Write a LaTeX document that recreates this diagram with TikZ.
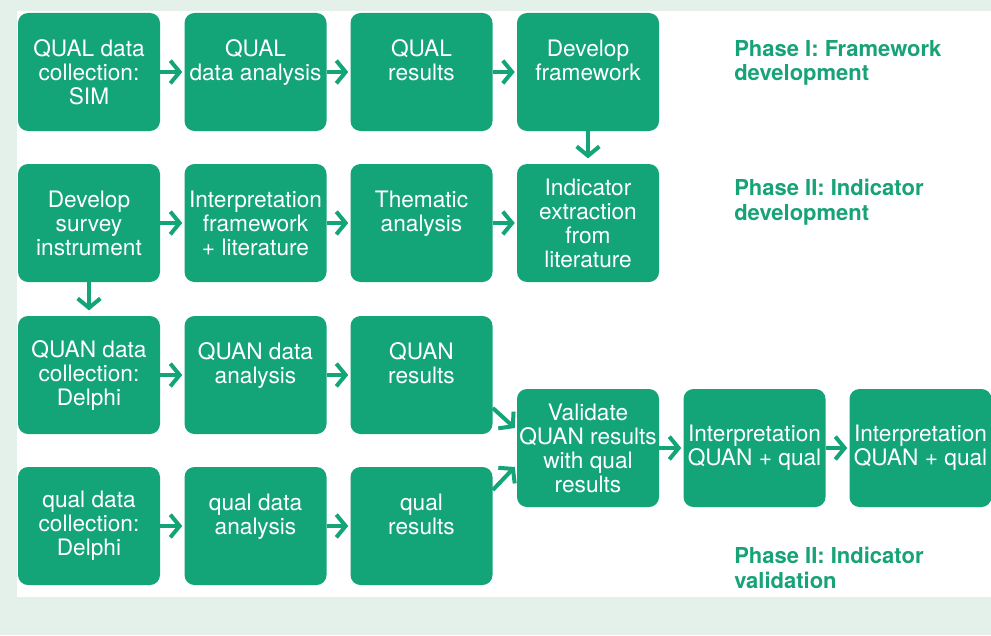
\documentclass[tikz,border=0pt]{standalone}
\usepackage{fontspec}
\setmainfont{TeX Gyre Heros}
\usetikzlibrary{arrows.meta,calc}
\definecolor{boxgreen}{HTML}{13A477}
\definecolor{labgreen}{HTML}{17A277}
\definecolor{bggreen}{HTML}{E4F1EA}
\tikzset{
  stagebox/.style={fill=boxgreen, draw=none, rounded corners=7.5pt,
    minimum width=106.5pt, minimum height=88.5pt, inner sep=0pt,
    text=white, align=center, font=\fontsize{17}{18}\selectfont},
  arr/.style={draw=boxgreen, line width=3pt, -{Straight Barb[length=7pt,width=17pt]}},
  phaselabel/.style={text=labgreen, align=left, anchor=north west, inner sep=0pt,
    font=\fontsize{16.5}{18.5}\selectfont\bfseries}
}
\begin{document}
\begin{tikzpicture}[x=0.75pt,y=-0.75pt]
\useasboundingbox (0,0) rectangle (991,635);
\fill[bggreen] (0,0) rectangle (991,635);
\fill[white] (17,11) rectangle (991,597);
% row 1
\node[stagebox] (a1) at (89,72) {QUAL data\\collection:\\SIM};
\node[stagebox] (a2) at (255.5,72) {QUAL\\data analysis\\\mbox{}};
\node[stagebox] (a3) at (421.5,72) {QUAL\\results\\\mbox{}};
\node[stagebox] (a4) at (588,72) {Develop\\framework\\\mbox{}};
% row 2
\node[stagebox] (b1) at (89,223) {Develop\\survey\\instrument};
\node[stagebox] (b2) at (255.5,223) {Interpretation\\framework\\+ literature};
\node[stagebox] (b3) at (421.5,223) {Thematic\\analysis\\\mbox{}};
\node[stagebox] (b4) at (588,223) {Indicator\\extraction\\from\\literature};
% row 3
\node[stagebox] (c1) at (89,375) {QUAN data\\collection:\\Delphi};
\node[stagebox] (c2) at (255.5,375) {QUAN data\\analysis\\\mbox{}};
\node[stagebox] (c3) at (421.5,375) {QUAN\\results\\\mbox{}};
% row 4
\node[stagebox] (d1) at (89,526) {qual data\\collection:\\Delphi};
\node[stagebox] (d2) at (255.5,526) {qual data\\analysis\\\mbox{}};
\node[stagebox] (d3) at (421.5,526) {qual\\results\\\mbox{}};
% validation row
\node[stagebox] (v1) at (588,448) {Validate\\QUAN results\\with qual\\results\raisebox{0pt}[0pt][0pt]{}};
\node[stagebox] (v2) at (754.5,448) {Interpretation\\QUAN + qual};
\node[stagebox] (v3) at (920.5,448) {Interpretation\\QUAN + qual};
% phase labels
\node[phaselabel] (p1) at (734,40) {Phase I: Framework\\development};
\node[phaselabel] (p2) at (734,179) {Phase II: Indicator\\development};
\node[phaselabel] (p3) at (734,547) {Phase II: Indicator\\validation};
% arrows
\draw[arr] (a1.east) -- ([xshift=-1.5pt]a2.west);
\draw[arr] (a2.east) -- ([xshift=-1.5pt]a3.west);
\draw[arr] (a3.east) -- ([xshift=-1.5pt]a4.west);
\draw[arr] (a4.south) -- ([yshift=4pt]b4.north);
\draw[arr] (b1.east) -- ([xshift=-1.5pt]b2.west);
\draw[arr] (b2.east) -- ([xshift=-1.5pt]b3.west);
\draw[arr] (b3.east) -- ([xshift=-1.5pt]b4.west);
\draw[arr] (b1.south) -- ([yshift=4pt]c1.north);
\draw[arr] (c1.east) -- ([xshift=-1.5pt]c2.west);
\draw[arr] (c2.east) -- ([xshift=-1.5pt]c3.west);
\draw[arr] (d1.east) -- ([xshift=-1.5pt]d2.west);
\draw[arr] (d2.east) -- ([xshift=-1.5pt]d3.west);
\draw[arr] ($(c3.east)+(0,33)$) -- ($(v1.west)+(-2,-20)$);
\draw[arr] ($(d3.east)+(0,-36)$) -- ($(v1.west)+(-2,19)$);
\draw[arr] (v1.east) -- ([xshift=-1.5pt]v2.west);
\draw[arr] (v2.east) -- ([xshift=-1.5pt]v3.west);
\end{tikzpicture}
\end{document}
